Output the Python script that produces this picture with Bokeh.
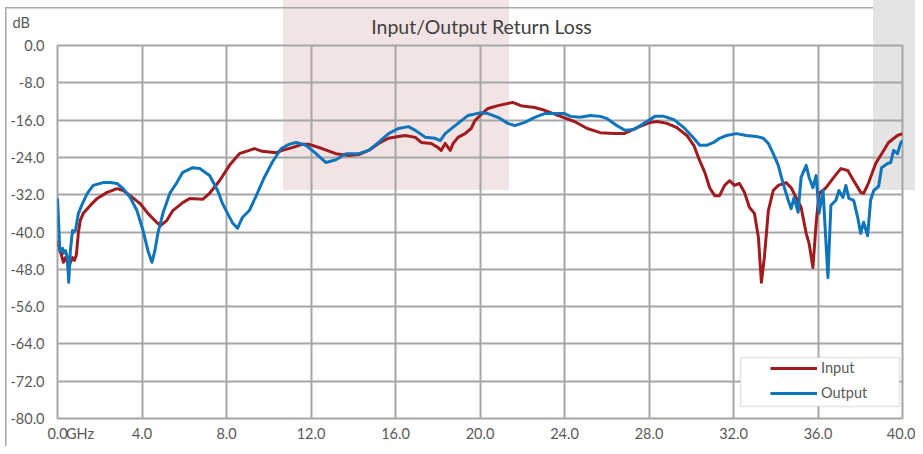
from bokeh.plotting import figure
from bokeh.models import (FixedTicker, NumeralTickFormatter, BoxAnnotation, Label,
                          Legend, LegendItem, Range1d)
from bokeh.embed import file_html
from bokeh.resources import INLINE

title_text = "Input/Output Return Loss"
x_unit = "GHz"
y_unit = "dB"
x_ticks = [0, 4, 8, 12, 16, 20, 24, 28, 32, 36, 40]
y_ticks = [0, -8, -16, -24, -32, -40, -48, -56, -64, -72, -80]

input_freq = [0.00, 0.09, 0.19, 0.28, 0.38, 0.47, 0.52, 0.61, 0.71, 0.80, 0.89, 0.99, 1.08, 1.22,
              1.55, 1.88, 2.35, 2.82, 3.11, 3.44, 3.91, 4.28, 4.71, 4.89, 5.18, 5.46, 5.93, 6.26,
              6.87, 7.20, 7.67, 8.14, 8.61, 9.08, 9.32, 9.69, 10.35, 10.64, 11.11, 11.58, 11.91,
              12.52, 13.18, 13.79, 14.26, 14.73, 15.20, 15.67, 16.14, 16.47, 16.94, 17.22, 17.69,
              18.02, 18.16, 18.35, 18.59, 18.73, 18.96, 19.29, 19.58, 19.76, 20.05, 20.38, 20.85,
              21.55, 21.93, 22.59, 23.06, 23.81, 24.47, 25.08, 25.69, 26.35, 26.82, 27.44, 28.05,
              28.38, 28.85, 29.32, 29.79, 30.12, 30.40, 30.64, 30.87, 31.11, 31.34, 31.58, 31.81,
              32.05, 32.28, 32.52, 32.75, 32.99, 33.18, 33.32, 33.46, 33.65, 33.88, 34.12, 34.49,
              34.73, 34.96, 35.20, 35.44, 35.58, 35.76, 35.91, 36.05, 36.38, 36.71, 37.08, 37.41,
              37.69, 38.02, 38.16, 38.40, 38.73, 39.06, 39.34, 39.76, 40.00]
input_db = [-41.8, -43.5, -45.0, -46.5, -45.5, -46.5, -47.8, -46.5, -45.5, -46.1, -45.0, -40.1, -37.5,
            -36.0, -34.3, -32.8, -31.5, -30.7, -31.1, -32.2, -33.9, -36.0, -38.0, -38.6, -37.5, -35.4,
            -33.7, -32.8, -33.0, -31.7, -29.0, -25.7, -23.2, -22.5, -22.1, -22.7, -23.0, -22.5, -21.9,
            -21.2, -21.2, -22.1, -23.2, -23.6, -23.4, -22.5, -21.0, -19.9, -19.5, -19.3, -19.7, -20.8,
            -21.0, -21.9, -22.5, -21.0, -22.5, -21.0, -19.7, -18.9, -17.8, -16.1, -14.8, -13.5, -12.9,
            -12.2, -12.9, -13.3, -13.9, -15.2, -16.3, -17.8, -18.7, -18.9, -18.9, -17.6, -16.5, -16.3,
            -16.7, -17.6, -19.3, -21.4, -24.7, -27.2, -30.5, -32.2, -32.2, -30.0, -29.0, -30.0, -29.6,
            -31.5, -34.7, -36.0, -41.2, -50.8, -45.5, -35.4, -31.1, -30.0, -29.4, -30.5, -32.6, -34.7,
            -40.3, -42.5, -47.6, -38.2, -31.7, -30.5, -28.5, -26.4, -26.8, -29.0, -31.5, -31.7, -29.4,
            -25.3, -22.9, -20.8, -19.3, -18.9]

output_freq = [0.00, 0.11, 0.24, 0.28, 0.38, 0.47, 0.53, 0.61, 0.71, 0.75,
               0.85, 0.99, 1.18, 1.41, 1.69, 2.16, 2.49, 2.82, 3.11, 3.44,
               3.76, 4.05, 4.28, 4.47, 4.61, 4.75, 4.99, 5.32, 5.65, 5.93,
               6.40, 6.73, 7.20, 7.58, 7.81, 8.05, 8.28, 8.52, 8.75, 9.08,
               9.41, 9.79, 10.16, 10.59, 10.96, 11.29, 11.76, 12.24, 12.71, 13.18,
               13.65, 14.26, 14.73, 15.20, 15.67, 16.14, 16.61, 16.94, 17.41, 17.88,
               18.12, 18.35, 18.82, 19.44, 20.05, 20.38, 20.85, 21.32, 21.65, 22.12,
               22.59, 23.06, 23.53, 24.00, 24.28, 24.75, 25.22, 25.69, 26.02, 26.49,
               26.87, 27.29, 27.76, 28.28, 28.71, 29.18, 29.65, 30.12, 30.40, 30.73,
               31.06, 31.34, 31.67, 32.14, 32.61, 33.08, 33.41, 33.65, 33.88, 34.12,
               34.35, 34.59, 34.73, 34.87, 35.06, 35.20, 35.44, 35.58, 35.76, 35.91,
               36.05, 36.24, 36.47, 36.61, 36.85, 36.99, 37.18, 37.32, 37.46, 37.69,
               37.88, 38.02, 38.16, 38.35, 38.49, 38.64, 38.87, 39.01, 39.29, 39.44,
               39.58, 39.76, 39.91, 40.00]
output_db = [-32.8, -44.0, -43.5, -44.6, -44.0, -45.5, -50.8, -44.0, -39.7, -40.1,
             -39.7, -36.0, -33.9, -31.7, -30.0, -29.4, -29.4, -29.6, -30.7, -32.6,
             -35.4, -39.7, -44.0, -46.5, -44.0, -40.3, -36.0, -31.7, -29.4, -27.2,
             -26.2, -26.4, -27.9, -31.1, -33.9, -36.0, -38.0, -39.2, -36.9, -35.4,
             -32.2, -28.3, -25.1, -22.1, -21.2, -20.8, -21.4, -23.2, -25.1, -24.5,
             -23.2, -23.2, -22.5, -20.8, -18.9, -17.8, -17.4, -18.2, -19.7, -19.9,
             -20.4, -18.9, -17.2, -15.0, -14.4, -14.6, -15.4, -16.7, -17.2, -16.5,
             -15.4, -14.6, -14.6, -14.6, -15.2, -15.4, -15.0, -15.2, -15.7, -17.2,
             -18.2, -18.0, -16.7, -15.2, -15.2, -15.9, -17.6, -19.9, -21.4, -21.4,
             -20.8, -19.9, -19.3, -18.9, -19.3, -19.5, -19.9, -21.0, -23.2, -25.7,
             -29.6, -33.2, -35.0, -32.6, -35.8, -28.3, -25.7, -28.3, -30.5, -27.9,
             -36.0, -31.1, -49.8, -34.3, -33.2, -31.1, -32.6, -30.0, -32.8, -33.2,
             -36.9, -40.3, -37.9, -40.8, -33.2, -31.1, -30.2, -26.2, -25.3, -25.1,
             -22.5, -23.2, -21.0, -20.4]

series_names = ["Input", "Output"]
series_colors = ["#A01A1E", "#0E74BC"]

FONT = "Lato"
TXT = "#595959"
GRID = "#A6A6A6"

W, H = 915, 446
p = figure(width=W, height=H, output_backend="svg", toolbar_location=None,
           x_range=Range1d(0, 40), y_range=Range1d(-80, 0),
           min_border_left=57, min_border_right=13, min_border_top=45, min_border_bottom=28)
p.border_fill_alpha = 0
p.background_fill_alpha = 0
p.outline_line_color = GRID
p.outline_line_width = 2

# page decoration behind the transparent canvas: highlight bands and outer chart border
p.styles = {
    "background": (
        "linear-gradient(#E4E4E4,#E4E4E4) 873px 0px / 50px 190px no-repeat, "
        "linear-gradient(#A6A6A6,#A6A6A6) 5px 7px / 1.5px 460px no-repeat, "
        "linear-gradient(#A6A6A6,#A6A6A6) 5px 7px / 930px 1.5px no-repeat, "
        "linear-gradient(#F2E4E4,#F2E4E4) 283px 0px / 226px 190px no-repeat, "
        "#FFFFFF"
    )
}

# the built-in title is replaced by free-positioned labels in the top panel
p.title.text = ""
p.title.visible = False

p.add_layout(Label(x=481, y=26, x_units="canvas", y_units="canvas", text=title_text,
                   text_align="center", text_baseline="middle",
                   text_font=FONT, text_font_size="19.5px", text_color="#404040"), "above")
p.add_layout(Label(x=12, y=22, x_units="canvas", y_units="canvas", text=y_unit,
                   text_align="left", text_baseline="middle",
                   text_font=FONT, text_font_size="14.5px", text_color=TXT), "above")

# axes
ghz_pos = 1.0625  # label position for the unit next to the first x tick
for ax in (p.xaxis[0], p.yaxis[0]):
    ax.axis_line_color = None
    ax.major_tick_line_color = None
    ax.minor_tick_line_color = None
    ax.major_tick_out = 0
    ax.major_tick_in = 0
    ax.major_label_text_font = FONT
    ax.major_label_text_font_size = "14.5px"
    ax.major_label_text_color = TXT
    ax.formatter = NumeralTickFormatter(format="0.0")
p.xaxis[0].ticker = FixedTicker(ticks=sorted(x_ticks + [ghz_pos]))
p.xaxis[0].major_label_overrides = {ghz_pos: x_unit}
p.yaxis[0].ticker = FixedTicker(ticks=y_ticks)
p.xaxis[0].major_label_standoff = 6
p.yaxis[0].major_label_standoff = 13

p.xgrid[0].ticker = FixedTicker(ticks=x_ticks)
p.ygrid[0].ticker = FixedTicker(ticks=y_ticks)
for g in (p.xgrid[0], p.ygrid[0]):
    g.grid_line_color = GRID
    g.grid_line_width = 2

# series
r_in = p.line(input_freq, input_db, line_color=series_colors[0], line_width=3, line_join="round")
r_out = p.line(output_freq, output_db, line_color=series_colors[1], line_width=3, line_join="round")

# legend frame
legbox = BoxAnnotation(left=740, right=899, top=357, bottom=406,
                       left_units="canvas", right_units="canvas",
                       top_units="canvas", bottom_units="canvas",
                       fill_color="white", fill_alpha=1.0, line_color=GRID, line_width=1.5,
                       level="annotation")
p.add_layout(legbox)

legend = Legend(items=[LegendItem(label=series_names[0], renderers=[r_in]),
                       LegendItem(label=series_names[1], renderers=[r_out])],
                location=(709, 13), orientation="vertical",
                padding=4, margin=0, spacing=8,
                glyph_width=47, glyph_height=16, label_height=16, label_standoff=4,
                label_text_font=FONT, label_text_font_size="14.5px", label_text_color=TXT,
                background_fill_alpha=0, border_line_alpha=0)
p.add_layout(legend, "center")

open("out.html", "w").write(file_html(p, INLINE))
